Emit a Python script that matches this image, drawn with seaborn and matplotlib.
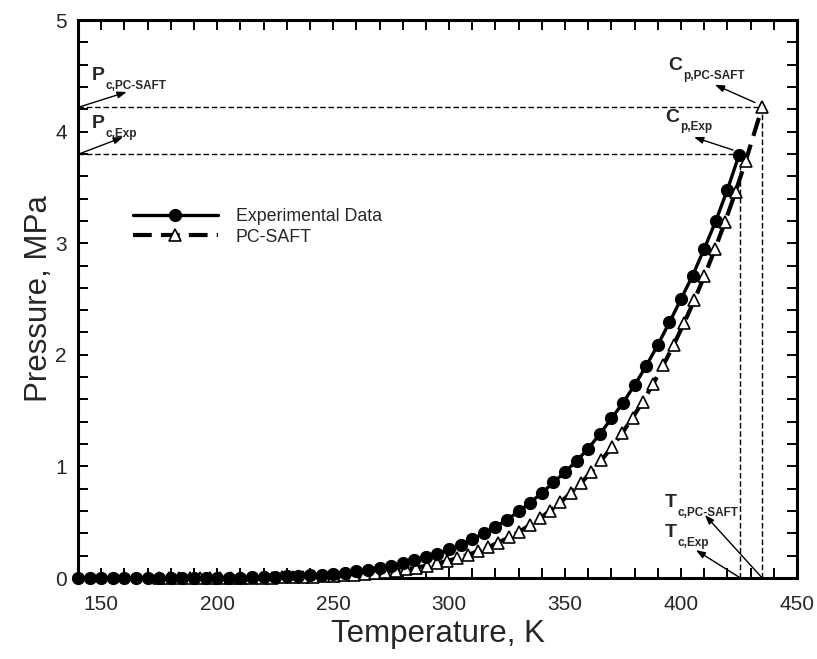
import matplotlib
matplotlib.use("Agg")
import matplotlib.pyplot as plt
import seaborn as sns
import pandas as pd
from matplotlib.ticker import MultipleLocator

# ---------------- data ----------------
exp_T = [140, 145, 150, 155, 160, 165, 170, 175, 180, 185, 190, 195,
         200, 205, 210, 215, 220, 225, 230, 235, 240, 245, 250, 255,
         260, 265, 270, 275, 280, 285, 290, 295, 300, 305, 310, 315,
         320, 325, 330, 335, 340, 345, 350, 355, 360, 365, 370, 375,
         380, 385, 390, 395, 400, 405, 410, 415, 420, 425]
exp_P = [0.0000, 0.0000, 0.0000, 0.0000, 0.0001, 0.0001, 0.0002, 0.0003,
         0.0004, 0.0007, 0.0010, 0.0015, 0.0021, 0.0030, 0.0042, 0.0058,
         0.0079, 0.0107, 0.0141, 0.0184, 0.0238, 0.0305, 0.0386, 0.0485,
         0.0604, 0.0745, 0.0913, 0.1105, 0.1324, 0.1575, 0.1864, 0.2193,
         0.2566, 0.2987, 0.3460, 0.3991, 0.4579, 0.5235, 0.5960, 0.6757,
         0.7634, 0.8560, 0.9500, 1.05, 1.16, 1.29, 1.43, 1.57,
         1.73, 1.90, 2.09, 2.29, 2.50, 2.71, 2.95, 3.20, 3.48, 3.79]

saft_T = [174.8, 179.2, 183.7, 188.1, 192.6, 197.0, 201.4, 205.9, 210.3,
          214.8, 219.2, 223.6, 228.1, 232.5, 237.0, 241.4, 245.9, 250.3,
          254.7, 259.2, 263.6, 268.1, 272.5, 276.9, 281.4, 285.8, 290.3,
          294.7, 299.1, 303.6, 308.0, 312.5, 316.9, 321.3, 325.8, 330.2,
          334.7, 339.1, 343.5, 348.0, 352.4, 356.9, 361.3, 365.7, 370.2,
          374.6, 379.1, 383.5, 387.9, 392.4, 396.8, 401.3, 405.7, 410.1,
          414.6, 419.0, 423.5, 427.9, 435.0]
saft_P = [0.0001, 0.0001, 0.0002, 0.0003, 0.0004, 0.0006, 0.0009, 0.0012,
          0.0017, 0.0024, 0.0032, 0.0042, 0.0056, 0.0072, 0.0094, 0.0120,
          0.0153, 0.0192, 0.0238, 0.0296, 0.0364, 0.0445, 0.0540, 0.0650,
          0.0781, 0.0929, 0.1103, 0.1300, 0.1523, 0.1783, 0.2072, 0.2404,
          0.2769, 0.3175, 0.3641, 0.4147, 0.4718, 0.5342, 0.6022, 0.678,
          0.761, 0.852, 0.950, 1.056, 1.174, 1.298, 1.436, 1.581, 1.737,
          1.909, 2.088, 2.284, 2.489, 2.708, 2.945, 3.193, 3.460, 3.738, 4.22]

Tc_exp, Pc_exp = 425.6, 3.80
Tc_saft, Pc_saft = 435.0, 4.22

x_ticks = [150, 200, 250, 300, 350, 400, 450]
y_ticks = [0, 1, 2, 3, 4, 5]

# ---------------- style ----------------
sns.set_style("ticks")
plt.rcParams['font.family'] = ['Liberation Sans', 'DejaVu Sans']

fig = plt.figure(figsize=(8.17, 6.59), dpi=100)
ax = fig.add_axes([78/817, 1-578/659, (797-78)/817, (578-20)/659])

df_exp = pd.DataFrame({"T": exp_T, "P": exp_P})
df_saft = pd.DataFrame({"T": saft_T, "P": saft_P})

# reference dashed guide lines
guide = dict(color='black', lw=1.0, linestyle=(0, (4, 2)), zorder=1)
ax.plot([140, Tc_saft], [Pc_saft, Pc_saft], **guide)
ax.plot([140, Tc_exp], [Pc_exp, Pc_exp], **guide)
ax.plot([Tc_saft, Tc_saft], [0, Pc_saft], **guide)
ax.plot([Tc_exp, Tc_exp], [0, Pc_exp], **guide)

sns.lineplot(data=df_saft, x="T", y="P", ax=ax, color='black',
             linewidth=3.0, linestyle=(0, (4.5, 2.2)), marker='^',
             markersize=8, markerfacecolor='white', markeredgecolor='black',
             markeredgewidth=1.2, label='PC-SAFT', clip_on=False, zorder=3)
sns.lineplot(data=df_exp, x="T", y="P", ax=ax, color='black',
             linewidth=2.4, marker='o', markersize=8.5,
             markerfacecolor='black', markeredgecolor='black',
             markeredgewidth=1.0, label='Experimental Data', clip_on=False,
             zorder=4)

ax.set_xlim(140, 450)
ax.set_ylim(0, 5)
ax.set_xticks(x_ticks)
ax.set_yticks(y_ticks)
ax.xaxis.set_minor_locator(MultipleLocator(10))
ax.yaxis.set_minor_locator(MultipleLocator(0.2))
ax.tick_params(which='both', direction='in', top=True, right=True,
               length=7, width=1.4, color='black')
ax.tick_params(axis='x', which='major', labelsize=15, pad=12)
ax.tick_params(axis='y', which='major', labelsize=15, pad=8)
for s in ax.spines.values():
    s.set_linewidth(2.2)
    s.set_color('black')

ax.set_xlabel("Temperature, K", fontsize=22.5, labelpad=4)
ax.set_ylabel("Pressure, MPa", fontsize=22.5, labelpad=1)

# legend
handles, labels = ax.get_legend_handles_labels()
order = [labels.index('Experimental Data'), labels.index('PC-SAFT')]
ax.legend([handles[i] for i in order], [labels[i] for i in order],
          loc='upper left', bbox_to_anchor=(0.076, 0.663), frameon=False,
          fontsize=12.8, handlelength=4.8, handletextpad=1.0,
          labelspacing=0.2, borderaxespad=0, borderpad=0)


def label(main, sub, x, y):
    t = ax.text(x, y, main, fontsize=14, fontweight='bold', ha='left',
                va='baseline')
    ax.annotate(sub, xy=(1, 0), xycoords=t, xytext=(0.5, -3.5),
                textcoords='offset points', fontsize=8.5,
                fontweight='bold', ha='left', va='baseline')


def arrow(x0, y0, x1, y1):
    ax.annotate('', xy=(x1, y1), xytext=(x0, y0),
                arrowprops=dict(arrowstyle='-|>,head_length=0.55,head_width=0.2',
                                color='black', lw=1.0, shrinkA=0, shrinkB=0))


label('P', 'c,PC-SAFT', 146.0, 4.46)
arrow(140.5, 4.22, 161.0, 4.355)
label('P', 'c,Exp', 146.0, 4.03)
arrow(140.5, 3.80, 159.4, 3.95)

label('C', 'p,PC-SAFT', 394.4, 4.55)
arrow(431.9, 4.26, 414.6, 4.42)
label('C', 'p,Exp', 393.1, 4.09)
arrow(422.4, 3.835, 405.6, 3.95)

label('T', 'c,PC-SAFT', 393.1, 0.636)
arrow(Tc_saft, 0.0, 410.3, 0.565)
label('T', 'c,Exp', 393.1, 0.367)
arrow(Tc_exp, 0.0, 406.4, 0.25)

fig.savefig("out.png", dpi=100)
